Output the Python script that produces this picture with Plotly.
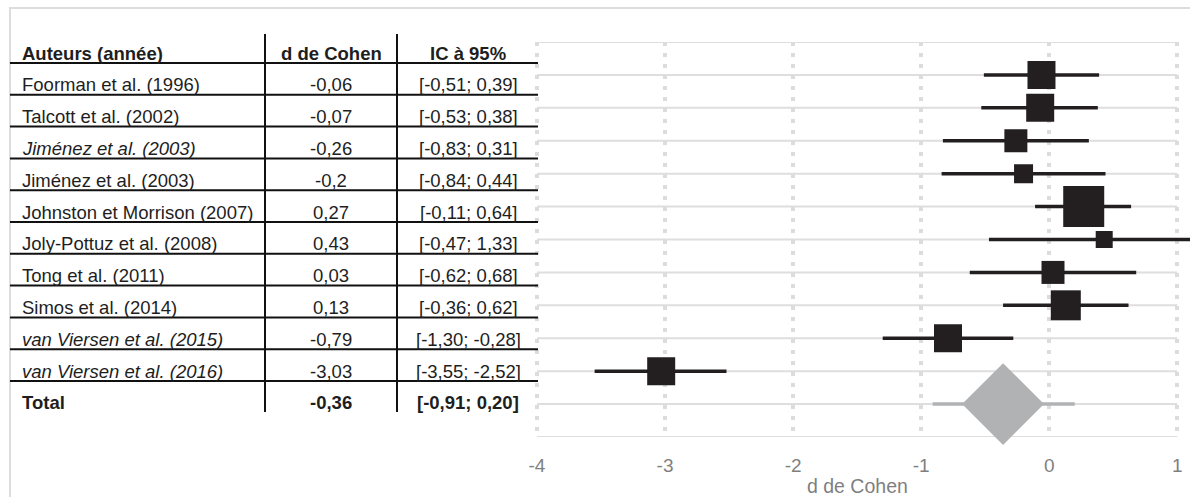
import plotly.graph_objects as go

W, H = 1190, 497

# ---------------- data ----------------
header = ["Auteurs (année)", "d de Cohen", "IC à 95%"]
authors = ["Foorman et al. (1996)", "Talcott et al. (2002)", "Jiménez et al. (2003)",
           "Jiménez et al. (2003)", "Johnston et Morrison (2007)", "Joly-Pottuz et al. (2008)",
           "Tong et al. (2011)", "Simos et al. (2014)", "van Viersen et al. (2015)",
           "van Viersen et al. (2016)"]
italic_rows = [False, False, True, False, False, False, False, False, True, True]
d_values = [-0.06, -0.07, -0.26, -0.20, 0.27, 0.43, 0.03, 0.13, -0.79, -3.03]
ci_low = [-0.51, -0.53, -0.83, -0.84, -0.11, -0.47, -0.62, -0.36, -1.30, -3.55]
ci_high = [0.39, 0.38, 0.31, 0.44, 0.64, 1.33, 0.68, 0.62, -0.28, -2.52]
square_sizes = [28, 28, 23, 19, 41, 17, 23, 30, 28, 28]
total_label = "Total"
total_d = -0.36
total_low = -0.91
total_high = 0.20
tick_vals = [-4, -3, -2, -1, 0, 1]
tick_text = ["-4", "-3", "-2", "-1", "0", "1"]
axis_title = "d de Cohen"

# ---------------- helpers ----------------
def fr_d(v):
    s = f"{v:.2f}".rstrip("0")
    if s.endswith("."):
        s = s[:-1]
    return s.replace(".", ",")

def fr_ci(lo, hi):
    return f"[{lo:.2f}; {hi:.2f}]".replace(".", ",")

def px(x):
    return x / W

def py(y):
    return 1 - y / H

FONT = "Liberation Sans, Arial, sans-serif"
TXT = "#1e1e1e"
BLACK = "#231f20"
GREY = "#b1b2b4"

n = len(authors)
rows = list(range(1, n + 1))
total_row = n + 1

fig = go.Figure()

# whiskers
wx, wy = [], []
for r, lo, hi in zip(rows, ci_low, ci_high):
    wx += [lo, hi, None]
    wy += [r, r, None]
fig.add_trace(go.Scatter(x=wx, y=wy, mode="lines",
                         line=dict(color=BLACK, width=3.5), hoverinfo="skip",
                         showlegend=False))
# squares
fig.add_trace(go.Scatter(x=d_values, y=rows, mode="markers",
                         marker=dict(symbol="square", size=square_sizes, color=BLACK,
                                     opacity=1, line=dict(width=0)),
                         showlegend=False))
# total
fig.add_trace(go.Scatter(x=[total_low, total_high], y=[total_row, total_row], mode="lines",
                         line=dict(color=GREY, width=3.5), showlegend=False,
                         hoverinfo="skip"))
fig.add_trace(go.Scatter(x=[total_d], y=[total_row], mode="markers",
                         marker=dict(symbol="diamond", size=63, color=GREY, opacity=1,
                                     line=dict(width=0)),
                         cliponaxis=False, showlegend=False))

shapes = []
# horizontal plot grid lines
for yv in range(0, total_row + 2):
    shapes.append(dict(type="line", xref="x", yref="y", x0=tick_vals[0], x1=tick_vals[-1],
                       y0=yv, y1=yv, line=dict(color="#dedede", width=2), layer="below"))

# figure border
shapes.append(dict(type="rect", xref="paper", yref="paper", x0=px(10), x1=px(1205),
                   y0=py(8), y1=py(510), line=dict(color="#dddddd", width=2),
                   fillcolor="rgba(0,0,0,0)", layer="below"))

# table lines
row_h = 31.8
line0 = 63.0
for k in range(n + 1):
    yy = line0 + k * row_h
    shapes.append(dict(type="line", xref="paper", yref="paper", x0=px(10), x1=px(538),
                       y0=py(yy), y1=py(yy), line=dict(color="#111111", width=2)))
for xx in (265, 397):
    shapes.append(dict(type="line", xref="paper", yref="paper", x0=px(xx), x1=px(xx),
                       y0=py(34), y1=py(412), line=dict(color="#111111", width=2)))

annotations = []
col_x = [20, 331, 468]

def add_row(ypix, cells, bold=False, ital=False):
    for j, (cx, txt) in enumerate(zip(col_x, cells)):
        t = txt
        if ital and j == 0:
            t = f"<i>{t}</i>"
        if bold:
            t = f"<b>{t}</b>"
        annotations.append(dict(xref="paper", yref="paper", x=px(cx), y=py(ypix),
                                text=t, showarrow=False,
                                xanchor="left" if j == 0 else "center", yanchor="middle",
                                font=dict(family=FONT, size=18.5, color=TXT)))

text0 = 53.0
add_row(text0, header, bold=True)
for k in range(n):
    add_row(text0 + (k + 1) * row_h,
            [authors[k], fr_d(d_values[k]), fr_ci(ci_low[k], ci_high[k])],
            ital=italic_rows[k])
add_row(text0 + (n + 1) * row_h,
        [total_label, fr_d(total_d), fr_ci(total_low, total_high)], bold=True)

# axis title
annotations.append(dict(xref="paper", yref="paper", x=px(857), y=py(486), text=axis_title,
                        showarrow=False, xanchor="center", yanchor="middle",
                        font=dict(family=FONT, size=19.5, color="#7f7f7f")))

x_lo = -4.03
unit = 128.04
dom0 = (537 + (x_lo + 4) * unit) / W

fig.update_layout(
    width=W, height=H,
    margin=dict(l=0, r=0, t=0, b=0),
    paper_bgcolor="white", plot_bgcolor="white",
    shapes=shapes, annotations=annotations,
    xaxis=dict(domain=[dom0, 1.0], range=[x_lo, 1.1], tickvals=tick_vals,
               ticktext=tick_text, showgrid=True, gridcolor="#dcdcdc", gridwidth=4,
               griddash="4px,7px", zeroline=False, showline=False, ticks="outside",
               ticklen=11, tickcolor="rgba(0,0,0,0)", automargin=False,
               tickfont=dict(family=FONT, size=19, color="#7f7f7f"), fixedrange=True),
    yaxis=dict(domain=[py(437), py(42)], range=[total_row + 1, 0], showgrid=False,
               zeroline=False, showline=False, showticklabels=False, automargin=False,
               fixedrange=True),
    showlegend=False,
)

fig.write_html("out.html")
